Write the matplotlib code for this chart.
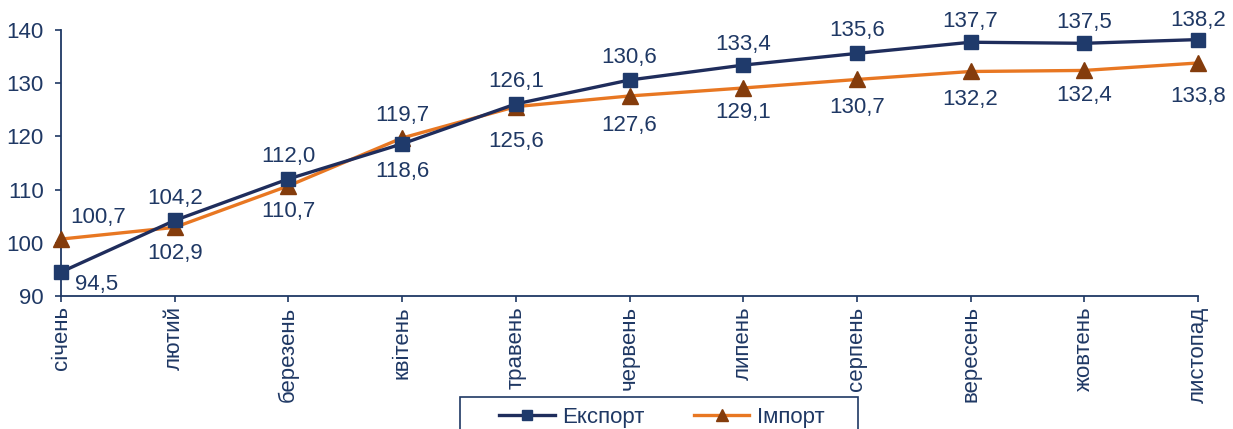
import matplotlib.pyplot as plt
from matplotlib.patches import Rectangle

months = ['січень', 'лютий', 'березень', 'квітень', 'травень', 'червень',
          'липень', 'серпень', 'вересень', 'жовтень', 'листопад']
export_vals = [94.5, 104.2, 112.0, 118.6, 126.1, 130.6, 133.4, 135.6, 137.7, 137.5, 138.2]
import_vals = [100.7, 102.9, 110.7, 119.7, 125.6, 127.6, 129.1, 130.7, 132.2, 132.4, 133.8]

# label offsets in pixels (dx, dy)
export_offs = [(36, -12), (0, 22), (0, 22), (0, -28), (0, 22), (0, 23),
               (0, 21), (0, 23), (0, 21), (0, 21), (0, 19)]
import_offs = [(37, 22), (0, -26), (0, -26), (0, 22), (0, -35), (0, -30),
               (0, -25), (0, -28), (0, -28), (0, -25), (0, -34)]

navy = '#1F3864'
plt.rcParams['font.family'] = ['Liberation Sans', 'DejaVu Sans']
fs = 16

fig = plt.figure(figsize=(12.33, 4.29), dpi=100)
ax = fig.add_axes([61 / 1233, 1 - 296 / 429, (1198 - 61) / 1233, (296 - 30) / 429])

x = list(range(len(months)))
ax.plot(x, import_vals, color='#E87722', lw=2.4, marker='^', ms=11,
        mfc='#843C0C', mec='#843C0C', label='Імпорт', zorder=3)
ax.plot(x, export_vals, color='#1F2D5C', lw=2.4, marker='s', ms=10,
        mfc='#1F3A6B', mec='#1F3A6B', label='Експорт', zorder=4)

for i, v in enumerate(export_vals):
    ax.annotate(('%.1f' % v).replace('.', ','), (i, v), xytext=export_offs[i],
                textcoords='offset pixels', ha='center', va='center',
                fontsize=fs, color=navy)
for i, v in enumerate(import_vals):
    ax.annotate(('%.1f' % v).replace('.', ','), (i, v), xytext=import_offs[i],
                textcoords='offset pixels', ha='center', va='center',
                fontsize=fs, color=navy)

ax.set_xlim(0, len(months) - 1)
ax.set_ylim(90, 140)
ax.set_yticks(range(90, 141, 10))
ax.set_xticks(x)
ax.set_xticklabels(months, rotation=90, fontsize=fs, color=navy)
ax.tick_params(axis='y', labelsize=fs, labelcolor=navy, color=navy, length=4.5, width=1.2, pad=8)
ax.tick_params(axis='x', color=navy, length=4.5, width=1.2, pad=3)
for s in ['top', 'right']:
    ax.spines[s].set_visible(False)
for s in ['left', 'bottom']:
    ax.spines[s].set_color(navy)
    ax.spines[s].set_linewidth(1.3)
for line in ax.lines:
    line.set_clip_on(False)

h, l = ax.get_legend_handles_labels()
leg = fig.legend(h[::-1], l[::-1], loc='upper center', bbox_to_anchor=(662 / 1233, 1 - 400 / 429),
                 ncol=2, frameon=False, fontsize=fs, handlelength=2.5,
                 handletextpad=0.36, columnspacing=2.2, borderpad=0.3, markerscale=0.75,
                 borderaxespad=0)
for t in leg.get_texts():
    t.set_color(navy)

# legend box, wider than the entries like in the source chart
fig.patches.append(Rectangle((460 / 1233, -0.05), (858 - 460) / 1233, 0.05 + 1 - 397 / 429,
                             transform=fig.transFigure, fill=False, edgecolor=navy, lw=1.2))

fig.savefig('out.png', dpi=100)
